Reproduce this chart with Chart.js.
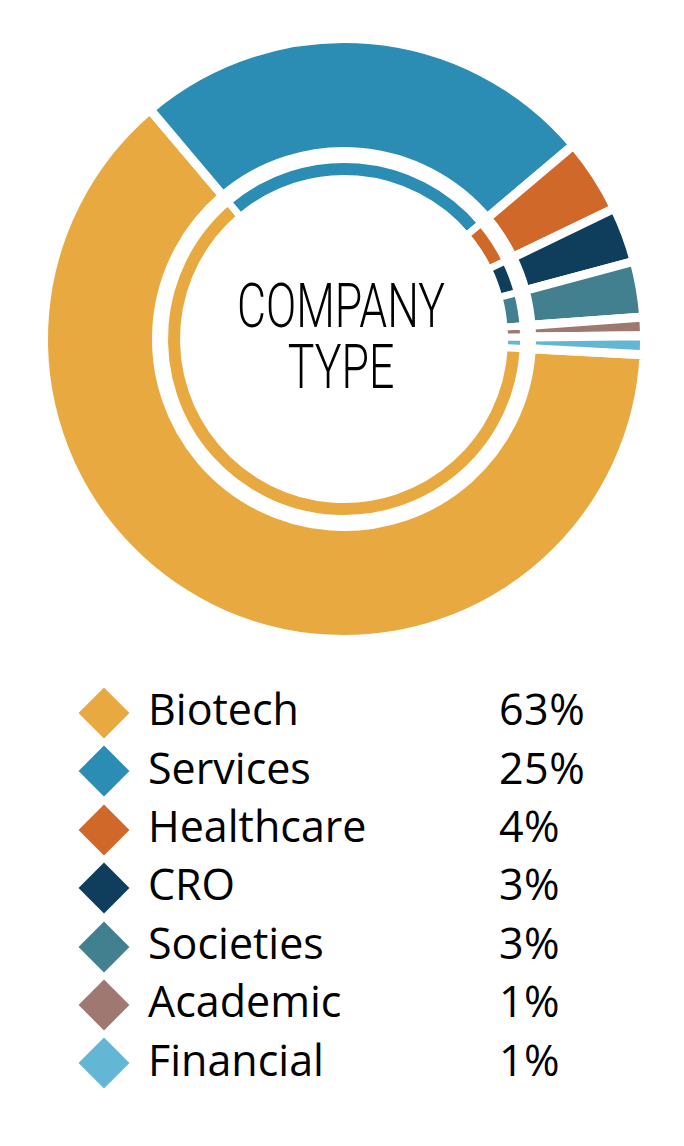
<!DOCTYPE html>
<html>
<head>
<meta charset="utf-8">
<title>Company Type</title>
<script src="https://cdn.jsdelivr.net/npm/chart.js@4.4.1/dist/chart.umd.min.js"></script>
<style>
    html, body { margin: 0; padding: 0; background: #fff; }
    #page { position: relative; width: 684px; height: 1146px; overflow: hidden; }
    #chart { position: absolute; left: 34px; top: 29px; }
    #centerText {
        position: absolute; left: 191px; top: 275px; width: 300px;
        text-align: center; font-family: Roboto, "DejaVu Sans", sans-serif;
        font-weight: 300; font-size: 62px; line-height: 61px; color: #000;
        transform: scaleX(0.72); transform-origin: 50% 0;
    }
    .row { position: absolute; left: 0; width: 684px; height: 58px; line-height: 58px;
        font-family: "Open Sans", "Noto Sans", sans-serif; font-size: 43px; color: #000; }
    .row .mark { position: absolute; left: 86px; top: 14.8px; width: 36px; height: 36px; transform: rotate(45deg); }
    .row .name { position: absolute; left: 148px; top: 0; }
    .row .pct { position: absolute; left: 499px; top: 0; letter-spacing: 0.5px; }
</style>
</head>
<body>
<div id="page">
    <canvas id="chart" width="620" height="620"></canvas>
    <div id="centerText">COMPANY<br>TYPE</div>
    <div id="legend"></div>
</div>
<script>
const categories = ["Biotech", "Services", "Healthcare", "CRO", "Societies", "Academic", "Financial"];
const shares = [63, 25, 4, 3, 3, 1, 1];
const colors = ["#E8A940", "#2B8DB3", "#CF6829", "#0E3E5C", "#427F8F", "#A07872", "#63B6D4"];

// legend rows (diamond, name, percent)
const legend = document.getElementById("legend");
categories.forEach((name, i) => {
    const row = document.createElement("div");
    row.className = "row";
    row.style.top = (680.2 + i * 58.4) + "px";
    row.innerHTML = '<span class="mark" style="background:' + colors[i] + '"></span>' +
        '<span class="name">' + name + '</span>' +
        '<span class="pct">' + shares[i] + '%</span>';
    legend.appendChild(row);
});

const ctx = document.getElementById("chart").getContext("2d");

new Chart(ctx, {
    type: "doughnut",
    data: {
        labels: categories,
        datasets: [
            { data: shares, backgroundColor: colors, borderColor: "#fff", borderWidth: 9, weight: 113 },
            // empty ring, only makes the white gap between the two rings
            { data: [1], backgroundColor: "rgba(0,0,0,0)", borderWidth: 0, weight: 8 },
            { data: shares, backgroundColor: colors, borderColor: "#fff", borderWidth: 7, weight: 19 }
        ]
    },
    options: {
        responsive: false,
        animation: false,
        rotation: 93,
        radius: 300.5,
        cutout: "53.41%",
        layout: { padding: 0 },
        plugins: {
            legend: { display: false },
            tooltip: { enabled: false }
        }
    }
});
</script>
</body>
</html>
